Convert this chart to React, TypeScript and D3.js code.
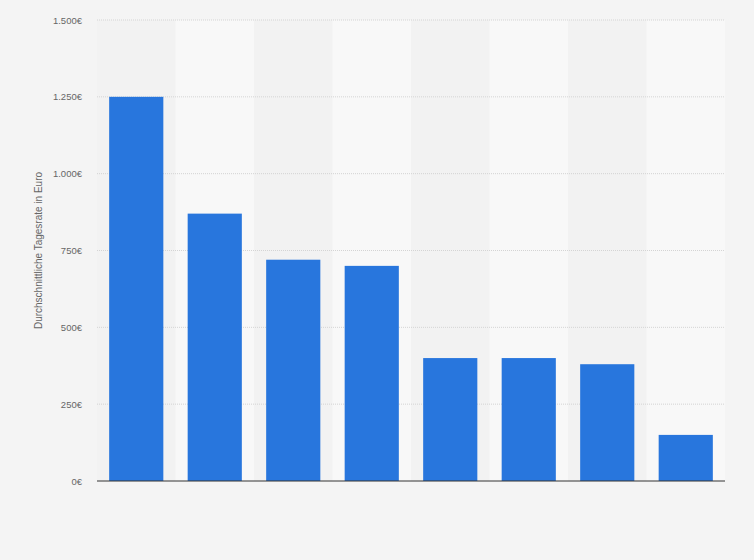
import * as d3 from 'd3'

const WIDTH = 754
const HEIGHT = 560
const MARGIN = {top: 20, right: 29, bottom: 79, left: 97}

const categories = ['A', 'B', 'C', 'D', 'E', 'F', 'G', 'H']
const values = [1250, 870, 720, 700, 400, 400, 380, 150]
const yTicks = [0, 250, 500, 750, 1000, 1250, 1500]

const fmt = (v: number) => d3.format(',')(v).replace(/,/g, '.') + '€'

const App = () => {
  const boundsWidth = WIDTH - MARGIN.left - MARGIN.right
  const boundsHeight = HEIGHT - MARGIN.top - MARGIN.bottom

  const xBand = d3.scaleBand().domain(categories).range([0, boundsWidth]).padding(0)
  const xScale = d3.scaleBand().domain(categories).range([0, boundsWidth]).paddingInner(0.31).paddingOuter(0.155)
  const yScale = d3.scaleLinear().domain([0, 1500]).range([boundsHeight, 0])

  return (
    <svg
      width={WIDTH}
      height={HEIGHT}
      style={{position: 'absolute', left: 0, top: 0, background: '#f4f4f4', fontFamily: 'Liberation Sans, Arial, sans-serif'}}>
      <g transform={`translate(${MARGIN.left},${MARGIN.top})`}>
        {categories.map((c, i) => (
          <rect
            key={c}
            x={xBand(c)}
            y={0}
            width={xBand.bandwidth()}
            height={boundsHeight}
            fill={i % 2 === 0 ? '#f2f2f2' : '#f8f8f8'}
          />
        ))}
        {yTicks.map(t => (
          <g key={t}>
            {t > 0 && (
              <line
                x1={0}
                x2={boundsWidth}
                y1={yScale(t)}
                y2={yScale(t)}
                stroke="#d4d4d4"
                strokeDasharray="1,1"
              />
            )}
            <text x={-15} y={yScale(t)} textAnchor="end" dominantBaseline="central" fontSize={9.5} fill="#666">
              {fmt(t)}
            </text>
          </g>
        ))}
        {categories.map((c, i) => (
          <rect
            key={c}
            x={xScale(c)}
            y={yScale(values[i])}
            width={xScale.bandwidth()}
            height={boundsHeight - yScale(values[i])}
            fill="#2876dd"
          />
        ))}
        <line x1={0} x2={boundsWidth} y1={boundsHeight} y2={boundsHeight} stroke="#333" strokeWidth={1} />
      </g>
      <text
        transform={`translate(42,${MARGIN.top + boundsHeight / 2}) rotate(-90)`}
        textAnchor="middle"
        fontSize={10}
        fill="#666">
        Durchschnittliche Tagesrate in Euro
      </text>
    </svg>
  )
}

export default App
